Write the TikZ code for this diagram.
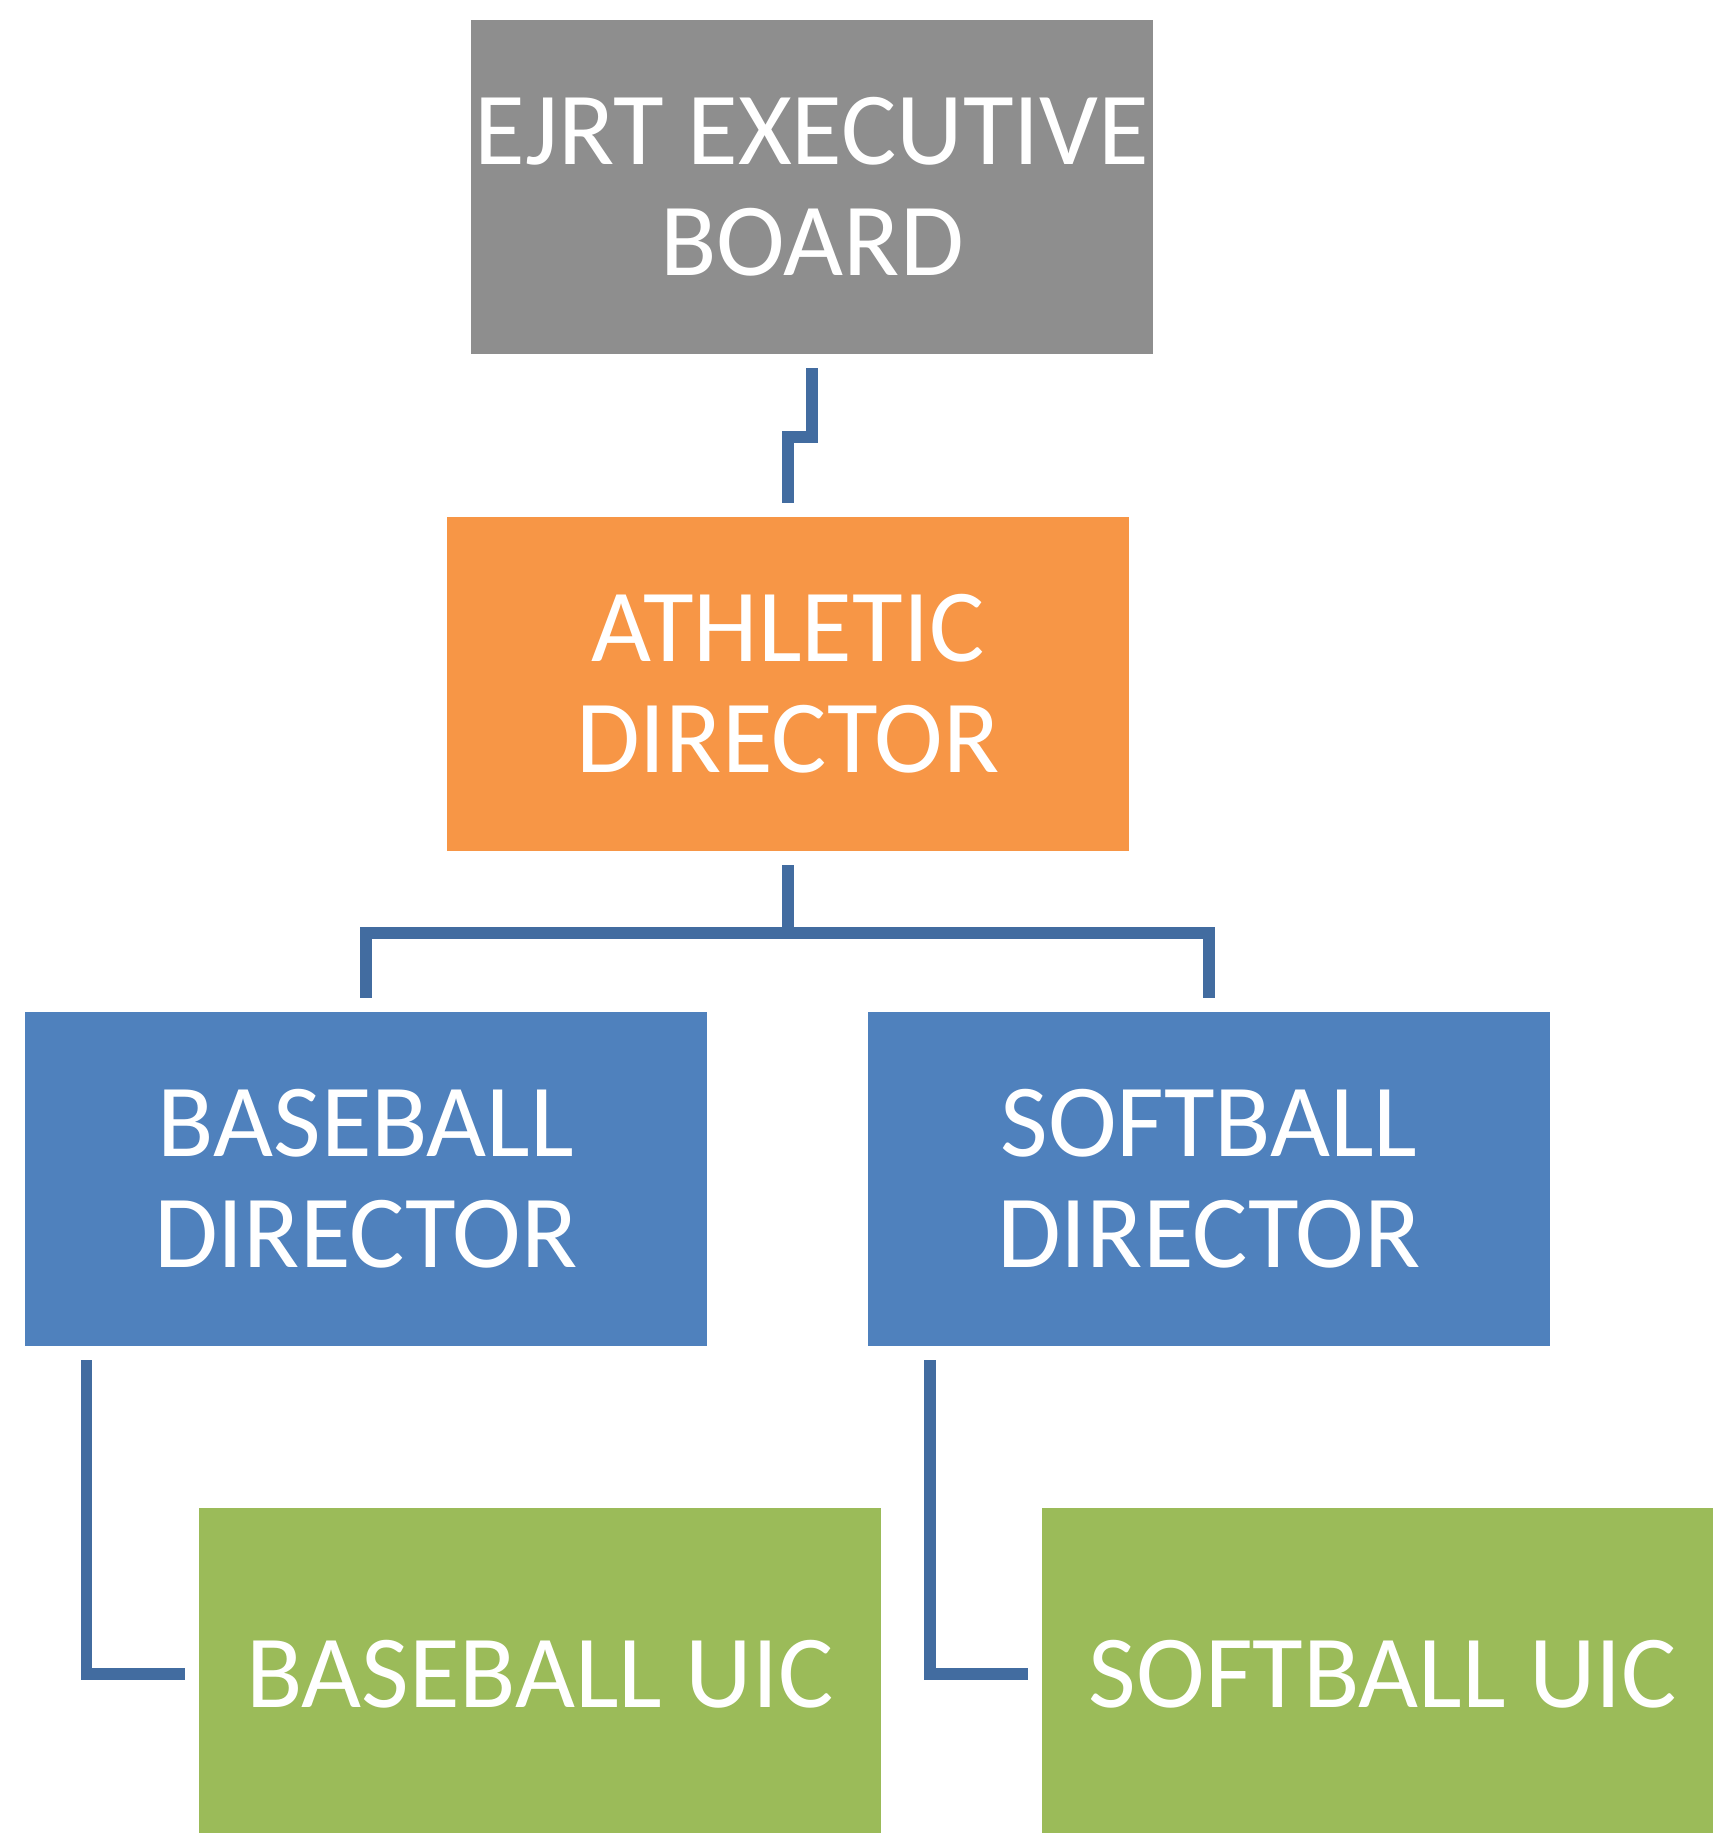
\documentclass[tikz,border=0pt]{standalone}
\usepackage{fontspec}
\setmainfont{Carlito}
\definecolor{execgray}{RGB}{142,142,142}
\definecolor{athorange}{RGB}{247,150,70}
\definecolor{dirblue}{RGB}{79,129,189}
\definecolor{uicgreen}{RGB}{155,187,89}
\definecolor{linkblue}{RGB}{66,108,160}

\begin{document}
\begin{tikzpicture}[x=0.02cm,y=-0.02cm,box/.style={rectangle,minimum width=13.64cm,minimum height=6.68cm,inner sep=0pt,text=white,align=center,font=\fontsize{59}{63}\selectfont},exec/.style={box,fill=execgray},ath/.style={box,fill=athorange},dir/.style={box,fill=dirblue},uic/.style={box,fill=uicgreen,minimum height=6.64cm},conn/.style={draw=linkblue,line width=0.23cm,line join=miter,shorten <=0.28cm,shorten >=0.28cm},]
        \useasboundingbox (0,0) rectangle (1712,1833);

        \node[exec] (board) at (812,187) {EJRT EXECUTIVE\\BOARD};
        \node[ath] (athletic) at (788,684) {ATHLETIC\\DIRECTOR};
        \node[dir] (bbd) at (366,1179) {BASEBALL\\DIRECTOR};
        \node[dir] (sbd) at (1209,1179) {SOFTBALL\\DIRECTOR};
        \node[uic] (buic) at (540,1674) {BASEBALL UIC};
        \node[uic] (suic) at (1383,1674) {SOFTBALL UIC};

        \coordinate (jog) at (0,437);
        \coordinate (bar) at (0,933);

        \draw[conn] (board.south) -- (board.south |- jog) -| (athletic.north);
        \draw[conn] (athletic.south) -- (athletic.south |- bar) -| (bbd.north);
        \draw[conn,shorten <=0pt] (athletic.south |- bar) -| (sbd.north);

        \draw[conn] ([xshift=1.24cm]bbd.south west) |- (buic.west);
        \draw[conn] ([xshift=1.25cm]sbd.south west) |- (suic.west);
    \end{tikzpicture}
\end{document}
